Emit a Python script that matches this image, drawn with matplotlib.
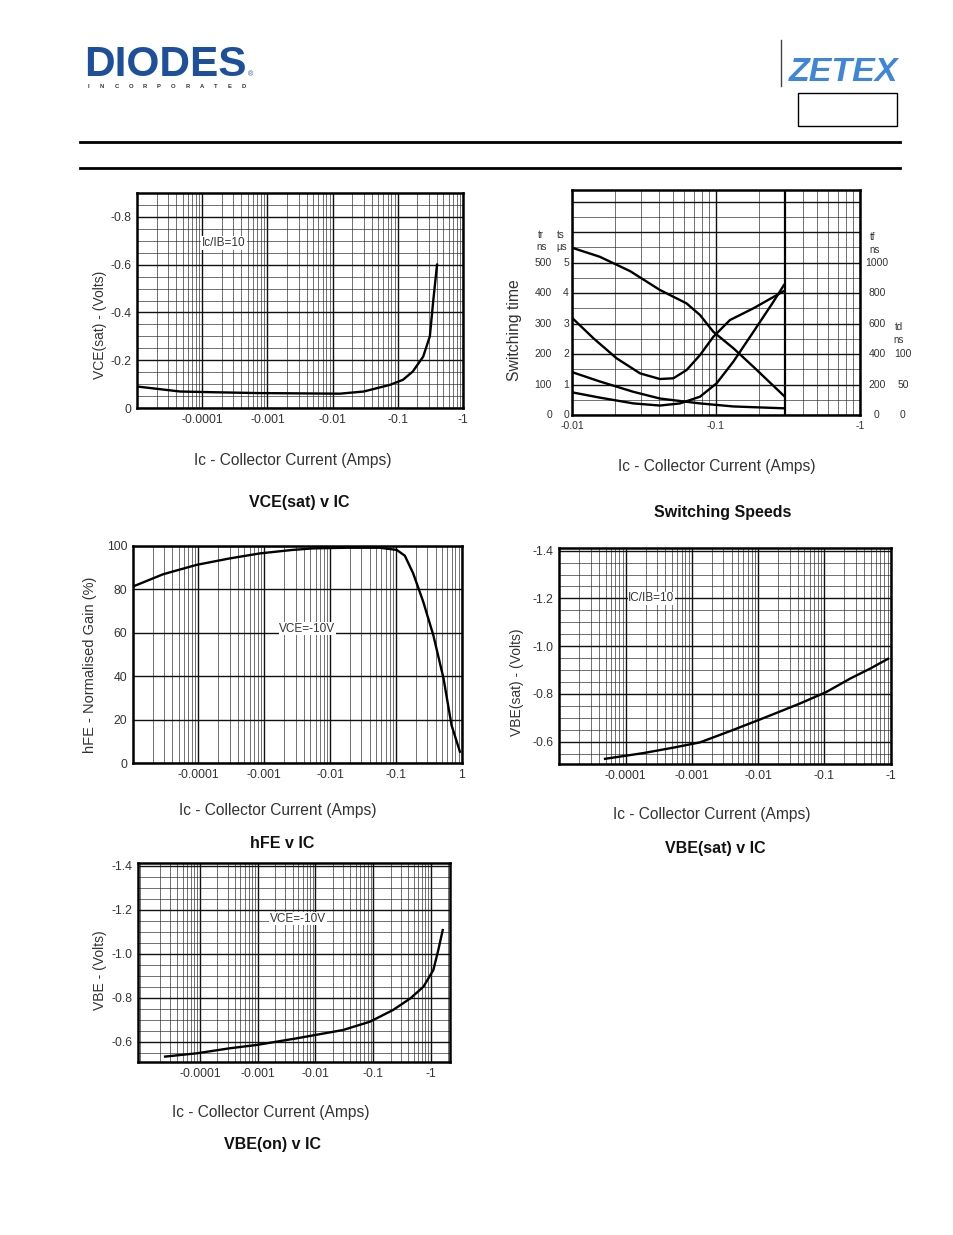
import numpy as np
import matplotlib
matplotlib.use("Agg")
import matplotlib.pyplot as plt
from matplotlib.ticker import LogLocator, MultipleLocator, NullFormatter
from matplotlib.transforms import blended_transform_factory

plt.rcParams["font.family"] = ["Liberation Sans", "DejaVu Sans"]

# ---------------------------------------------------------------
# Data (Ic in Amps, negative = PNP)
# ---------------------------------------------------------------
# VCE(sat) v IC
ic_vcesat = [-1e-5, -4.6e-5, -1.5e-4, -7e-4, -0.013, -0.03, -0.076, -0.12, -0.17, -0.245, -0.31, -0.35, -0.40]
vcesat = [-0.090, -0.069, -0.066, -0.0625, -0.060, -0.069, -0.097, -0.118, -0.153, -0.215, -0.30, -0.45, -0.60]

# Switching speeds
ic_ts = [-0.0101, -0.0156, -0.0253, -0.0408, -0.0625, -0.0774, -0.0958, -0.132, -0.182, -0.296]
ts_us = [5.48, 5.19, 4.72, 4.10, 3.66, 3.28, 2.73, 2.19, 1.58, 0.63]
ic_tf = [-0.0101, -0.0141, -0.0204, -0.0297, -0.0408, -0.0506, -0.0625, -0.0774, -0.0958, -0.125, -0.182, -0.296]
tf_ns = [634, 503, 372, 273, 236, 241, 295, 393, 513, 623, 700, 813]
ic_td = [-0.0101, -0.0156, -0.0267, -0.0408, -0.0774, -0.132, -0.296]
td_ns = [70, 55, 38, 27, 19, 14, 11]
ic_tr = [-0.0101, -0.0156, -0.0267, -0.0408, -0.0562, -0.0774, -0.101, -0.132, -0.182, -0.25, -0.296]
tr_ns = [74, 57, 38, 31, 38, 60, 104, 175, 273, 371, 426]

# hFE v IC
ic_hfe = [-1e-5, -2.9e-5, -9.3e-5, -3e-4, -8.6e-4, -2.7e-3, -5.5e-3, -0.0177, -0.057, -0.103, -0.137, -0.183, -0.26, -0.37, -0.53, -0.70, -0.94]
hfe = [81.3, 87.0, 91.3, 94.3, 96.6, 98.2, 98.9, 99.2, 99.2, 98.2, 95.5, 87.4, 74.4, 59.0, 39.0, 17.6, 5.3]

# VBE(sat) v IC
ic_vbesat = [-4.9e-5, -1.86e-4, -5.3e-4, -1.33e-3, -4.2e-3, -0.0135, -0.043, -0.107, -0.244, -0.49, -0.91]
vbesat = [-0.528, -0.552, -0.575, -0.597, -0.649, -0.704, -0.760, -0.808, -0.864, -0.906, -0.947]

# VBE(on) v IC
ic_vbeon = [-2.48e-5, -8.8e-5, -3.3e-4, -9.6e-4, -4.7e-3, -0.030, -0.088, -0.22, -0.44, -0.74, -1.1, -1.34, -1.6]
vbeon = [-0.532, -0.547, -0.570, -0.585, -0.615, -0.653, -0.691, -0.744, -0.797, -0.850, -0.926, -1.017, -1.108]

# tick labels
x_dec = [1e-4, 1e-3, 1e-2, 1e-1, 1]
x_dec_labels = ["-0.0001", "-0.001", "-0.01", "-0.1", "-1"]
hfe_x_labels = ["-0.0001", "-0.001", "-0.01", "-0.1", "1"]
sw_x = [0.01, 0.1, 1]
sw_x_labels = ["-0.01", "-0.1", "-1"]
tr_ticks = [0, 100, 200, 300, 400, 500]
ts_ticks = [0, 1, 2, 3, 4, 5]
tf_ticks = [0, 200, 400, 600, 800, 1000]
td_ticks = [0, 50, 100]

# ---------------------------------------------------------------
W, H = 954, 1235
fig = plt.figure(figsize=(W / 100, H / 100), dpi=100)
page = fig.add_axes([0, 0, 1, 1])
page.set_xlim(0, W)
page.set_ylim(H, 0)
page.axis("off")

TXT = "#333333"


def px_axes(l, t, r, b):
    return fig.add_axes([l / W, 1 - b / H, (r - l) / W, (b - t) / H])


def log_grid(ax, xlim, ylim, ydense=None):
    ax.set_xscale("log")
    ax.set_xlim(*xlim)
    ax.set_ylim(*ylim)
    ax.xaxis.set_minor_locator(LogLocator(base=10, subs=np.arange(2, 10), numticks=40))
    ax.xaxis.set_minor_formatter(NullFormatter())
    ax.grid(True, which="major", color="#111111", lw=1.0)
    ax.grid(True, which="minor", axis="x", color="#222222", lw=0.45)
    if ydense:
        ax.yaxis.set_minor_locator(MultipleLocator(ydense))
        ax.grid(True, which="minor", axis="y", color="#222222", lw=0.45)
    ax.tick_params(which="both", length=0, labelsize=8.8, labelcolor=TXT, pad=4)
    for s in ax.spines.values():
        s.set_linewidth(1.8)


def note(ax, x, y, s, **kw):
    ax.text(x, y, s, fontsize=8.5, color=TXT, bbox=dict(fc="white", ec="none", pad=0.5), **kw)


# ---------------- page header ----------------
page.text(84, 76, "DIODES", fontsize=30.5, weight="bold", color="#1d4f9b", va="baseline")
page.text(248, 76, "®", fontsize=5, color="#1d4f9b", va="baseline")
for i, ch in enumerate("INCORPORATED"):
    page.text(88 + i * 14.2, 87, ch, fontsize=4.2, weight="bold", color="#333333",
              ha="center", va="center")
page.plot([781, 781], [40, 86], color="#444444", lw=1)
page.text(789, 81, "ZETEX", fontsize=24.5, weight="bold", style="italic", color="#3f86d6",
          va="baseline")
page.add_patch(plt.Rectangle((798, 93), 99, 33, fill=False, ec="black", lw=1))
page.plot([80, 900], [142, 142], color="black", lw=2)
page.plot([80, 900], [168, 168], color="black", lw=2)

# ---------------- VCE(sat) v IC ----------------
ax1 = px_axes(137, 193, 463, 408)
ax1.plot(np.abs(ic_vcesat), vcesat, color="black", lw=1.7)
log_grid(ax1, (1e-5, 1), (0, -0.9), ydense=0.05)
ax1.set_xticks(x_dec, x_dec_labels)
ax1.set_yticks([0, -0.2, -0.4, -0.6, -0.8], ["0", "-0.2", "-0.4", "-0.6", "-0.8"])
note(ax1, 1.0e-4, -0.69, "Ic/IB=10", va="center")
page.text(100, 325, "VCE(sat) - (Volts)", rotation=90, fontsize=10, color=TXT, ha="center", va="center")
page.text(293, 461, "Ic - Collector Current (Amps)", fontsize=11.2, color=TXT, ha="center", va="center")
page.text(299, 503, "VCE(sat) v IC", fontsize=11.5, weight="bold", color="#111111", ha="center", va="center")

# ---------------- Switching speeds ----------------
ax2 = px_axes(572, 190, 860, 415)
ax2.plot(np.abs(ic_ts), np.array(ts_us) * 100, color="black", lw=1.7)
ax2.plot(np.abs(ic_tf), np.array(tf_ns) / 2, color="black", lw=1.7)
ax2.plot(np.abs(ic_td), np.array(td_ns) * 2, color="black", lw=1.7)
ax2.plot(np.abs(ic_tr), tr_ns, color="black", lw=1.7)
log_grid(ax2, (0.01, 1), (0, 738), ydense=50)
ax2.set_xticks(sw_x, sw_x_labels)
ax2.tick_params(labelsize=7.5)
ax2.set_yticks(range(0, 800, 100))
ax2.yaxis.set_major_formatter(NullFormatter())
ax2.axvline(0.3, color="black", lw=1.6)
bt = blended_transform_factory(page.transData, ax2.transData)
for v in tr_ticks:
    page.text(552, v, str(v), transform=bt, fontsize=7.5, color=TXT, ha="right", va="center")
for v in ts_ticks:
    page.text(569, v * 100, str(v), transform=bt, fontsize=7.5, color=TXT, ha="right", va="center")
for v in tf_ticks:
    page.text(877, v / 2, str(v), transform=bt, fontsize=7.5, color=TXT, ha="center", va="center")
for v in td_ticks:
    page.text(903, v * 2, str(v), transform=bt, fontsize=7.5, color=TXT, ha="center", va="center")
for x, y, s in [(541, 235, "tr"), (542, 247, "ns"), (561, 235, "ts"), (562, 247, "µs"),
                (873, 237, "tf"), (875, 250, "ns"), (899, 327, "td"), (899, 340, "ns")]:
    page.text(x, y, s, fontsize=7, color=TXT, ha="center", va="center")
for x, y, s in [(634, 260, "ts"), (593, 322, "tf"), (594, 370, "td"), (594, 407, "tr")]:
    page.text(x, y, s, fontsize=7.5, color=TXT, ha="center", va="center",
              bbox=dict(fc="white", ec="none", pad=0.3))
page.text(574, 198, "ZTX654/55-2", fontsize=8, color="#222222", ha="left", va="center",
          bbox=dict(fc="white", ec="none", pad=1))
page.text(786, 199, "IB1=IB2=IC/10", fontsize=8, color="#222222", ha="left", va="center",
          bbox=dict(fc="white", ec="none", pad=1))
page.text(515, 330, "Switching time", rotation=90, fontsize=11.3, color=TXT, ha="center", va="center")
page.text(717, 467, "Ic - Collector Current (Amps)", fontsize=11.2, color=TXT, ha="center", va="center")
page.text(723, 512, "Switching Speeds", fontsize=11.5, weight="bold", color="#111111", ha="center", va="center")

# ---------------- hFE v IC ----------------
ax3 = px_axes(132.7, 546, 461.7, 763.3)
ax3.plot(np.abs(ic_hfe), hfe, color="black", lw=1.7)
log_grid(ax3, (1e-5, 1), (0, 100))
ax3.set_xticks(x_dec, hfe_x_labels)
ax3.set_yticks([0, 20, 40, 60, 80, 100], ["0", "20", "40", "60", "80", "100"])
note(ax3, 4.5e-3, 62, "VCE=-10V", va="center", ha="center")
page.text(90, 665, "hFE - Normalised Gain (%)", rotation=90, fontsize=10.5, color=TXT, ha="center", va="center")
page.text(278, 810, "Ic - Collector Current (Amps)", fontsize=11.2, color=TXT, ha="center", va="center")
page.text(282, 844, "hFE v IC", fontsize=11.5, weight="bold", color="#111111", ha="center", va="center")

# ---------------- VBE(sat) v IC ----------------
ax4 = px_axes(559.3, 548.3, 890.7, 764.3)
ax4.plot(np.abs(ic_vbesat), vbesat, color="black", lw=1.7)
log_grid(ax4, (1e-5, 1), (-0.505, -1.41), ydense=0.05)
ax4.set_xticks(x_dec, x_dec_labels)
ax4.set_yticks([-0.6, -0.8, -1.0, -1.2, -1.4], ["-0.6", "-0.8", "-1.0", "-1.2", "-1.4"])
note(ax4, 1.1e-4, -1.2, "IC/IB=10", va="center")
page.text(517, 682, "VBE(sat) - (Volts)", rotation=90, fontsize=10, color=TXT, ha="center", va="center")
page.text(712, 814, "Ic - Collector Current (Amps)", fontsize=11.2, color=TXT, ha="center", va="center")
page.text(715, 848, "VBE(sat) v IC", fontsize=11.5, weight="bold", color="#111111", ha="center", va="center")

# ---------------- VBE(on) v IC ----------------
ax5 = px_axes(137.7, 863.3, 450, 1062.3)
ax5.plot(np.abs(ic_vbeon), vbeon, color="black", lw=1.7)
log_grid(ax5, (10 ** -5.08, 10 ** 0.33), (-0.506, -1.412), ydense=0.05)
ax5.set_xticks(x_dec, x_dec_labels)
ax5.set_yticks([-0.6, -0.8, -1.0, -1.2, -1.4], ["-0.6", "-0.8", "-1.0", "-1.2", "-1.4"])
note(ax5, 5e-3, -1.16, "VCE=-10V", va="center", ha="center")
page.text(100, 970, "VBE - (Volts)", rotation=90, fontsize=10, color=TXT, ha="center", va="center")
page.text(271, 1113, "Ic - Collector Current (Amps)", fontsize=11.2, color=TXT, ha="center", va="center")
page.text(273, 1145, "VBE(on) v IC", fontsize=11.5, weight="bold", color="#111111", ha="center", va="center")

fig.savefig("out.png", dpi=100)
